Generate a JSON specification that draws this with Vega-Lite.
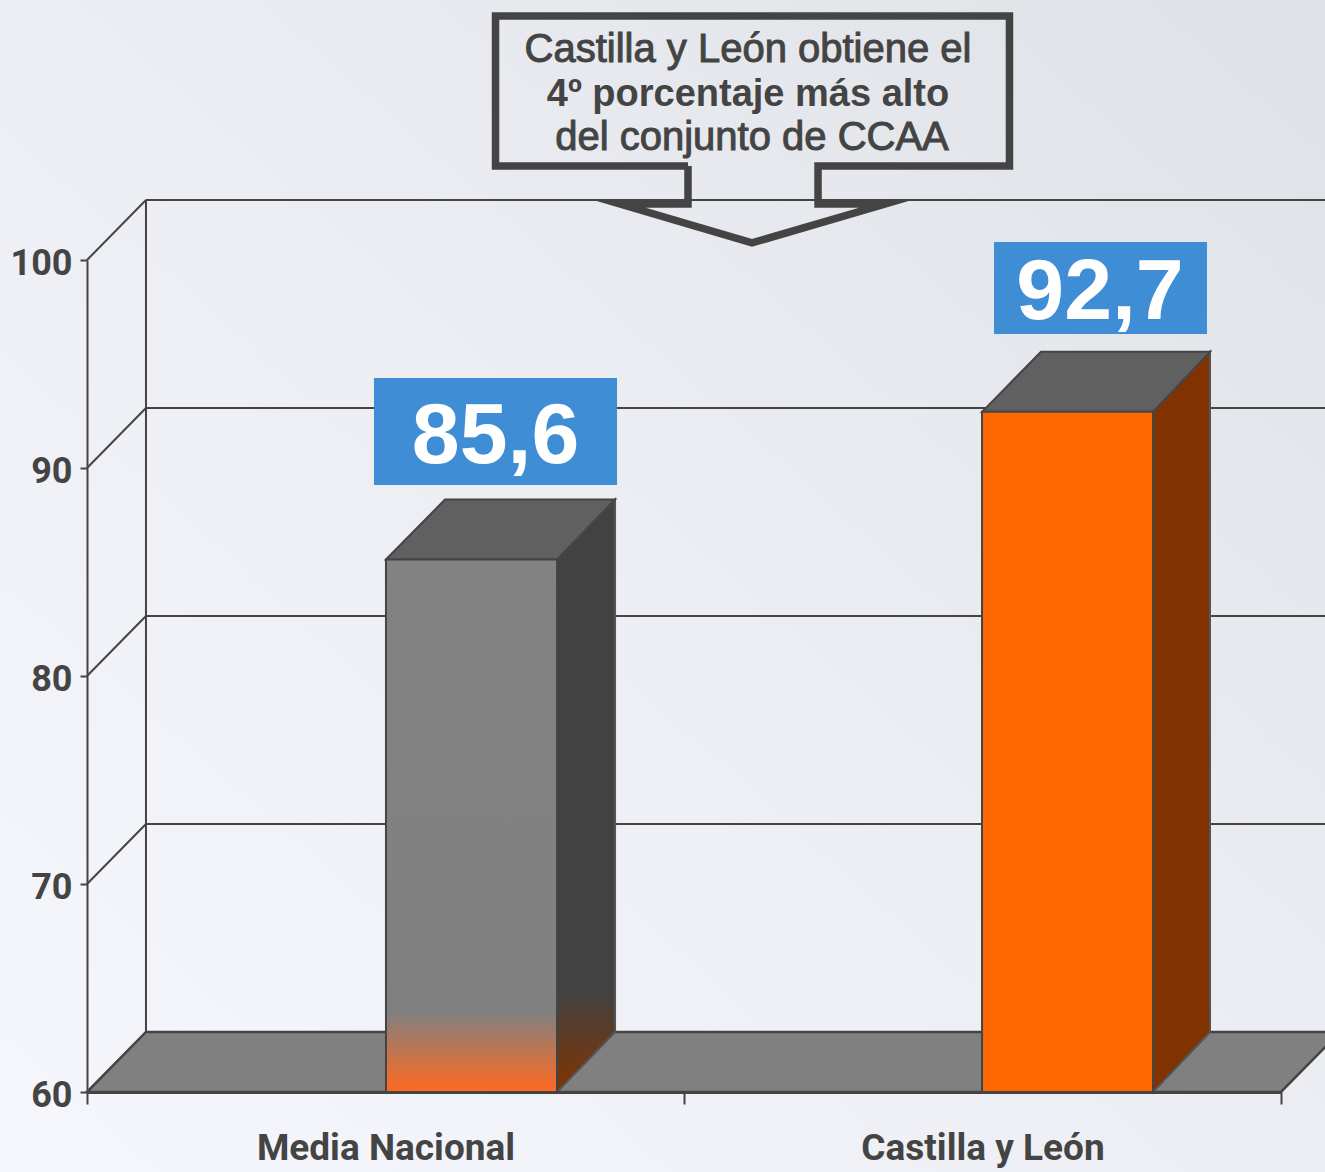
{
"$schema":"https://vega.github.io/schema/vega-lite/v6.json",
"autosize":{"type":"none"},
"padding":{"left":87,"right":44,"top":260,"bottom":80},
"width":1194,"height":832,
"background":"#eceef2",
"view":{"stroke":null},
"datasets":{
"bg":[{"x":-0.1457,"x2":2.0737,"y":56.154,"y2":112.5}],
"grid":[{"x":0.0988,"x2":2.0737,"y":62.885,"y2":62.885},{"x":0.0988,"x2":2.0737,"y":72.885,"y2":72.885},{"x":0.0988,"x2":2.0737,"y":82.885,"y2":82.885},{"x":0.0988,"x2":2.0737,"y":92.885,"y2":92.885},{"x":0.0988,"x2":2.0737,"y":102.885,"y2":102.885},
{"x":0.0988,"x2":0.0988,"y":62.885,"y2":102.885},
{"x":0,"x2":0.0988,"y":70,"y2":72.885},{"x":0,"x2":0.0988,"y":80,"y2":82.885},{"x":0,"x2":0.0988,"y":90,"y2":92.885},{"x":0,"x2":0.0988,"y":100,"y2":102.885}],
"areas":[
{"part":"floor","x":0,"y":60,"y2":60},{"part":"floor","x":0.0988,"y":62.885,"y2":60},{"part":"floor","x":2,"y":62.885,"y2":60},{"part":"floor","x":2.0988,"y":62.885,"y2":62.885},
{"part":"top1","x":0.5008,"y":85.6,"y2":85.6},{"part":"top1","x":0.5997,"y":88.485,"y2":85.6},{"part":"top1","x":0.7873,"y":88.485,"y2":85.6},{"part":"top1","x":0.8845,"y":88.485,"y2":88.485},
{"part":"side1","x":0.7873,"y":85.6,"y2":60},{"part":"side1","x":0.8845,"y":88.485,"y2":62.885},
{"part":"top2","x":1.4992,"y":92.7,"y2":92.7},{"part":"top2","x":1.598,"y":95.585,"y2":92.7},{"part":"top2","x":1.7856,"y":95.585,"y2":92.7},{"part":"top2","x":1.8811,"y":95.585,"y2":95.585},
{"part":"side2","x":1.7856,"y":92.7,"y2":60},{"part":"side2","x":1.8811,"y":95.585,"y2":62.885}
],
"bars":[{"name":"Media Nacional","x":0.5008,"x2":0.7873,"y":85.6,"y2":60},{"name":"Castilla y León","x":1.4992,"x2":1.7856,"y":92.7,"y2":60}],
"boxes":[{"x":0.4807,"x2":0.8878,"y":94.33,"y2":89.18},{"x":1.5193,"x2":1.876,"y":100.87,"y2":96.44}],
"values":[{"x":0.6843,"y":90.24,"t":"85,6"},{"x":1.6968,"y":97.16,"t":"92,7"}],
"callout":[{"i":0,"x":1.0067,"y":104.52},{"i":1,"x":1.0067,"y":102.69},{"i":2,"x":0.8928,"y":102.69},{"i":3,"x":1.1139,"y":100.82},{"i":4,"x":1.3367,"y":102.69},{"i":5,"x":1.2245,"y":102.69},{"i":6,"x":1.2245,"y":104.52},{"i":7,"x":1.5452,"y":104.52},{"i":8,"x":1.5452,"y":111.73},{"i":9,"x":0.6843,"y":111.73},{"i":10,"x":0.6843,"y":104.52},{"i":11,"x":1.0067,"y":104.52}],
"regular":[{"x":1.1072,"y":109.52,"t":"Castilla y León obtiene el"},{"x":1.1139,"y":105.29,"t":"del conjunto de CCAA"}],
"bold":[{"x":1.1072,"y":107.4,"t":"4º porcentaje más alto"}]
},
"encoding":{
"x":{"field":"x","type":"quantitative","title":null,"scale":{"domain":[0,2],"nice":false,"zero":false},
"axis":{"values":[0,0.5,1,1.5,2],"grid":false,"zindex":1,"domain":true,"domainColor":"#444444","domainWidth":3,"tickColor":"#444444","tickWidth":2,"tickSize":12,"tickOpacity":{"condition":{"test":"datum.value==0.5||datum.value==1.5","value":0},"value":1},"labelExpr":"datum.value==0.5?'Media Nacional':datum.value==1.5?'Castilla y León':''","labelFont":"Roboto","labelFontWeight":"bold","labelFontSize":37,"labelLimit":500,"labelColor":"#444444","labelPadding":26,"labelOverlap":false,"labelFlush":false,"labelBaseline":"top"}},
"y":{"field":"y","type":"quantitative","title":null,"stack":null,"scale":{"domain":[60,100],"nice":false,"zero":false},
"axis":{"values":[60,70,80,90,100],"grid":false,"zindex":1,"domain":true,"domainColor":"#444444","domainWidth":2,"tickColor":"#444444","tickWidth":2,"tickSize":7,"labelFont":"Roboto","labelFontWeight":"bold","labelFontSize":36,"labelColor":"#444444","labelPadding":8,"labelOffset":3,"labelOverlap":false,"labelFlush":false}}
},
"layer":[
{"data":{"name":"bg"},"mark":{"type":"rect","color":{"gradient":"linear","x1":0,"y1":1,"x2":1,"y2":0,"stops":[{"offset":0,"color":"#f5f7fc"},{"offset":0.5,"color":"#eceef3"},{"offset":1,"color":"#dee1e6"}]}},"encoding":{"x2":{"field":"x2"},"y2":{"field":"y2"}}},
{"data":{"name":"grid"},"mark":{"type":"rule","color":"#444444","strokeWidth":2},"encoding":{"x2":{"field":"x2"},"y2":{"field":"y2"}}},
{"data":{"name":"areas"},"transform":[{"filter":"datum.part=='floor'"}],"mark":{"type":"area","color":"#808080","stroke":"#444444","strokeWidth":2.5},"encoding":{"y2":{"field":"y2"}}},
{"data":{"name":"areas"},"transform":[{"filter":"datum.part=='side1'"}],"mark":{"type":"area","color":{"gradient":"linear","x1":0,"y1":0,"x2":0,"y2":1,"stops":[{"offset":0,"color":"#424242"},{"offset":0.83,"color":"#424242"},{"offset":1,"color":"#803300"}]},"stroke":"#555555","strokeWidth":2},"encoding":{"y2":{"field":"y2"}}},
{"data":{"name":"areas"},"transform":[{"filter":"datum.part=='top1'"}],"mark":{"type":"area","color":"#606060","stroke":"#444444","strokeWidth":2},"encoding":{"y2":{"field":"y2"}}},
{"data":{"name":"areas"},"transform":[{"filter":"datum.part=='side2'"}],"mark":{"type":"area","color":"#803300","stroke":"#555555","strokeWidth":2},"encoding":{"y2":{"field":"y2"}}},
{"data":{"name":"areas"},"transform":[{"filter":"datum.part=='top2'"}],"mark":{"type":"area","color":"#606060","stroke":"#444444","strokeWidth":2},"encoding":{"y2":{"field":"y2"}}},
{"data":{"name":"bars"},"transform":[{"filter":"datum.name=='Media Nacional'"}],"mark":{"type":"rect","color":{"gradient":"linear","x1":0,"y1":0,"x2":0,"y2":1,"stops":[{"offset":0,"color":"#828282"},{"offset":0.85,"color":"#808080"},{"offset":1,"color":"#ff6a20"}]},"stroke":"#444444","strokeWidth":2},"encoding":{"x2":{"field":"x2"},"y2":{"field":"y2"}}},
{"data":{"name":"bars"},"transform":[{"filter":"datum.name=='Castilla y León'"}],"mark":{"type":"rect","color":"#ff6600","stroke":"#444444","strokeWidth":2},"encoding":{"x2":{"field":"x2"},"y2":{"field":"y2"}}},
{"data":{"name":"boxes"},"mark":{"type":"rect","color":"#3f8dd5"},"encoding":{"x2":{"field":"x2"},"y2":{"field":"y2"}}},
{"data":{"name":"values"},"mark":{"type":"text","font":"Liberation Sans","fontWeight":"bold","fontSize":86,"color":"#ffffff","align":"center","baseline":"alphabetic"},"encoding":{"text":{"field":"t"}}},
{"data":{"name":"callout"},"mark":{"type":"line","color":"#444444","strokeWidth":7.5,"strokeJoin":"miter","strokeMiterLimit":10,"clip":false},"encoding":{"order":{"field":"i"}}},
{"data":{"name":"regular"},"mark":{"type":"text","font":"Liberation Sans","fontSize":40,"color":"#444444","stroke":"#444444","strokeWidth":1,"align":"center","baseline":"alphabetic"},"encoding":{"text":{"field":"t"}}},
{"data":{"name":"bold"},"mark":{"type":"text","font":"Liberation Sans","fontWeight":"bold","fontSize":38,"color":"#444444","align":"center","baseline":"alphabetic"},"encoding":{"text":{"field":"t"}}}
]
}
